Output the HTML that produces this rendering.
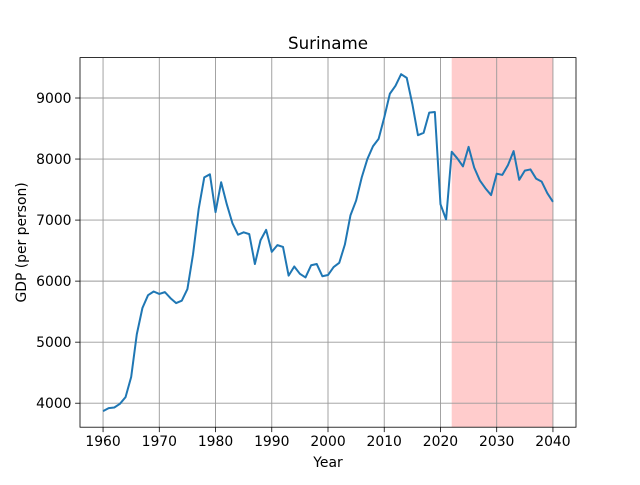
<!DOCTYPE html>
<html><head><meta charset="utf-8"><style>
body{margin:0;background:#fff;font-family:"Liberation Sans","DejaVu Sans",sans-serif}
svg text{font-family:"DejaVu Sans","Liberation Sans",sans-serif;fill:#000}
</style></head><body>
<svg id="chart" width="640" height="480"></svg>
<script>
const years=[];for(let y=1960;y<=2040;y++)years.push(y);
const gdp=[3870,3920,3930,3990,4100,4430,5130,5560,5770,5830,5790,5820,5720,5640,5680,5870,6440,7180,7700,7750,7130,7620,7260,6950,6760,6800,6770,6280,6670,6840,6480,6590,6560,6090,6240,6120,6060,6260,6280,6080,6100,6230,6300,6600,7080,7320,7700,8000,8210,8330,8680,9070,9200,9390,9330,8900,8390,8430,8760,8770,7260,7010,8120,8010,7880,8200,7860,7650,7520,7410,7760,7740,7900,8130,7660,7810,7830,7680,7630,7440,7300];
const xTicks=[1960,1970,1980,1990,2000,2010,2020,2030,2040];
const yTicks=[4000,5000,6000,7000,8000,9000];
const forecastRange=[2022,2040];
const L=80,R=576,T=57.6,B=427.2;
const x0=1955.9,x1=2044.1,y0=3607,y1=9662;
const sx=v=>L+(v-x0)/(x1-x0)*(R-L);
const sy=v=>B-(v-y0)/(y1-y0)*(B-T);
const svg=document.getElementById('chart');const NS='http://www.w3.org/2000/svg';
function mk(t,a,p){const e=document.createElementNS(NS,t);for(const k in a)e.setAttribute(k,a[k]);(p||svg).appendChild(e);return e;}
const shade=mk('rect',{x:sx(forecastRange[0]),y:T,width:sx(forecastRange[1])-sx(forecastRange[0]),height:B-T,fill:'#ffcccc'});


xTicks.forEach(v=>{const g=mk('line',{x1:sx(v),x2:sx(v),y1:T,y2:B,stroke:'#999','stroke-width':0.9});


mk('line',{x1:sx(v),x2:sx(v),y1:B,y2:B+4.9,stroke:'#000','stroke-width':0.8});
const t=mk('text',{x:sx(v),y:B+19,'font-size':13.9,'text-anchor':'middle'});t.textContent=v;

});
yTicks.forEach(v=>{const g=mk('line',{x1:L,x2:R,y1:sy(v),y2:sy(v),stroke:'#999','stroke-width':0.9});


mk('line',{x1:L-4.9,x2:L,y1:sy(v),y2:sy(v),stroke:'#000','stroke-width':0.8});
const t=mk('text',{x:L-8.5,y:sy(v)+5,'font-size':13.9,'text-anchor':'end'});t.textContent=v;

});
const line=mk('polyline',{points:years.map((y,i)=>sx(y)+','+sy(gdp[i])).join(' '),fill:'none',stroke:'#1f77b4','stroke-width':2,'stroke-linejoin':'round'});


const fr=mk('rect',{x:L,y:T,width:R-L,height:B-T,fill:'none',stroke:'#000','stroke-width':0.8});


const ti=mk('text',{x:(L+R)/2,y:49,'font-size':16.7,'text-anchor':'middle'});ti.textContent='Suriname';


const xl=mk('text',{x:(L+R)/2,y:467,'font-size':13.9,'text-anchor':'middle'});xl.textContent='Year';


const yl=mk('text',{x:26,y:(T+B)/2,'font-size':13.9,'text-anchor':'middle',transform:`rotate(-90 26 ${(T+B)/2})`});yl.textContent='GDP (per person)';


</script>
</body></html>
